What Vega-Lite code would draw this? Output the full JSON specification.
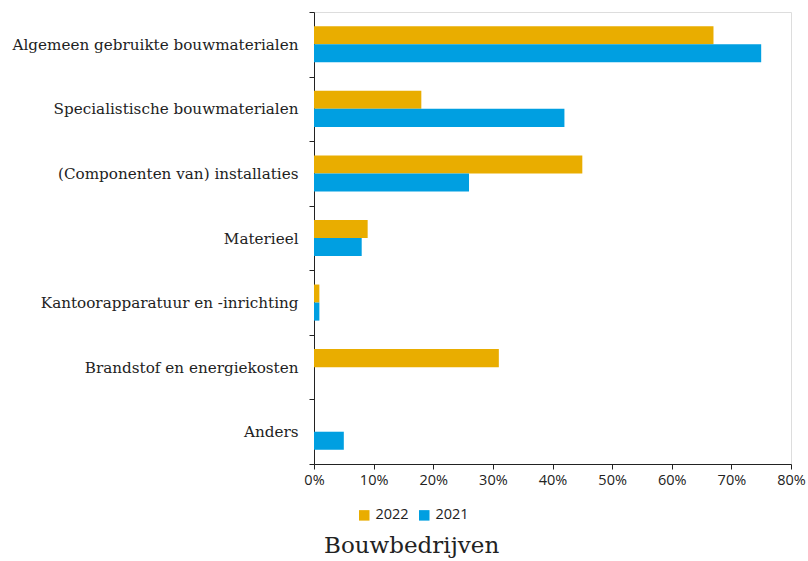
{
  "$schema": "https://vega.github.io/schema/vega-lite/v6.json",
  "autosize": "none",
  "width": 477,
  "height": 452,
  "padding": {"left": 314, "top": 12, "right": 17, "bottom": 97},
  "background": "white",
  "title": {
    "text": "Bouwbedrijven",
    "orient": "bottom",
    "anchor": "start",
    "frame": "group",
    "dx": 10,
    "offset": 13,
    "font": "DejaVu Serif",
    "fontSize": 23,
    "fontWeight": "normal",
    "color": "#222222"
  },
  "data": {
    "values": [
      {"categorie": "Algemeen gebruikte bouwmaterialen", "jaar": "2022", "waarde": 0.67},
      {"categorie": "Algemeen gebruikte bouwmaterialen", "jaar": "2021", "waarde": 0.75},
      {"categorie": "Specialistische bouwmaterialen", "jaar": "2022", "waarde": 0.18},
      {"categorie": "Specialistische bouwmaterialen", "jaar": "2021", "waarde": 0.42},
      {"categorie": "(Componenten van) installaties", "jaar": "2022", "waarde": 0.45},
      {"categorie": "(Componenten van) installaties", "jaar": "2021", "waarde": 0.26},
      {"categorie": "Materieel", "jaar": "2022", "waarde": 0.09},
      {"categorie": "Materieel", "jaar": "2021", "waarde": 0.08},
      {"categorie": "Kantoorapparatuur en -inrichting", "jaar": "2022", "waarde": 0.009},
      {"categorie": "Kantoorapparatuur en -inrichting", "jaar": "2021", "waarde": 0.009},
      {"categorie": "Brandstof en energiekosten", "jaar": "2022", "waarde": 0.31},
      {"categorie": "Brandstof en energiekosten", "jaar": "2021", "waarde": 0},
      {"categorie": "Anders", "jaar": "2022", "waarde": 0},
      {"categorie": "Anders", "jaar": "2021", "waarde": 0.05}
    ]
  },
  "mark": {"type": "bar"},
  "encoding": {
    "y": {
      "field": "categorie",
      "type": "nominal",
      "sort": null,
      "scale": {"paddingInner": 0, "paddingOuter": 0},
      "axis": {
        "title": null,
        "labelFont": "DejaVu Serif",
        "labelFontSize": 15.2,
        "labelColor": "#222222",
        "labelPadding": 11,
        "tickBand": "extent",
        "tickSize": 5,
        "tickColor": "#222222",
        "domainColor": "#222222",
        "labelLimit": 400
      }
    },
    "yOffset": {
      "field": "jaar",
      "type": "nominal",
      "sort": ["2022", "2021"],
      "scale": {"paddingInner": 0, "paddingOuter": 0.79}
    },
    "x": {
      "field": "waarde",
      "type": "quantitative",
      "scale": {"domain": [0, 0.8], "nice": false},
      "axis": {
        "title": null,
        "format": ".0%",
        "values": [0, 0.1, 0.2, 0.3, 0.4, 0.5, 0.6, 0.7, 0.8],
        "grid": false,
        "labelFont": "Open Sans",
        "labelFontSize": 14.5,
        "labelColor": "#222222",
        "labelPadding": 4,
        "tickSize": 5,
        "tickColor": "#222222",
        "domainColor": "#222222",
        "labelFlush": false
      }
    },
    "color": {
      "field": "jaar",
      "type": "nominal",
      "sort": ["2022", "2021"],
      "scale": {"domain": ["2022", "2021"], "range": ["#E9AD00", "#009FE1"]},
      "legend": {
        "title": null,
        "orient": "none",
        "direction": "horizontal",
        "legendX": 43,
        "legendY": 496,
        "symbolType": "square",
        "symbolSize": 110,
        "symbolStrokeWidth": 0,
        "labelFont": "Open Sans",
        "labelFontSize": 14.5,
        "labelColor": "#222222",
        "labelOffset": 4,
        "columnPadding": 8
      }
    }
  }
}
